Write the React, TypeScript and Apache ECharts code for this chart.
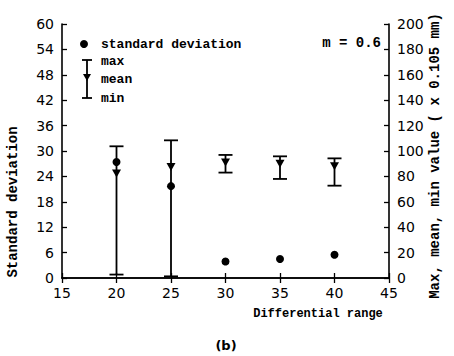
import React, { useEffect, useRef } from "react";
import * as echarts from "echarts";

const ranges = [20, 25, 30, 35, 40];
const stdDev = [27.4, 21.7, 3.9, 4.5, 5.5];
const maxVals = [103.7, 108.4, 96.9, 95.8, 94.2];
const meanVals = [82.2, 87.4, 90.9, 90.0, 88.0];
const minVals = [2.7, 1.3, 83.0, 78.0, 72.7];

const MONO = "'Liberation Mono', 'DejaVu Sans Mono', monospace";
const SANS = "'DejaVu Sans', sans-serif";

export default function App() {
  const ref = useRef<HTMLDivElement>(null);
  useEffect(() => {
    if (!ref.current) return;
    const chart = echarts.init(ref.current, null, { renderer: "svg" });
    const gl = 62, gt = 24, gw = 327, gh = 254;
    const axisCommon = {
      axisLine: { show: true, lineStyle: { color: "#000", width: 1.6 } },
      axisTick: { show: true, inside: true, length: 5, lineStyle: { color: "#000", width: 1.3 } },
      splitLine: { show: false },
    };
    const option: any = {
      animation: false,
      backgroundColor: "#fff",
      grid: { left: gl, top: gt, width: gw, height: gh, containLabel: false },
      xAxis: [
        {
          type: "value", min: 15, max: 45, interval: 5, position: "bottom",
          ...axisCommon,
          axisLabel: { color: "#000", fontFamily: SANS, fontSize: 14, margin: 8 },
        },
        {
          type: "value", min: 15, max: 45, interval: 5, position: "top",
          ...axisCommon,
          axisLabel: { show: false },
        },
      ],
      yAxis: [
        {
          type: "value", min: 0, max: 60, interval: 6, position: "left",
          ...axisCommon,
          axisLabel: { color: "#000", fontFamily: SANS, fontSize: 14, margin: 8 },
        },
        {
          type: "value", min: 0, max: 200, interval: 20, position: "right",
          ...axisCommon,
          axisLabel: { color: "#000", fontFamily: SANS, fontSize: 14, margin: 8 },
        },
      ],
      series: [
        {
          type: "custom",
          xAxisIndex: 0,
          yAxisIndex: 1,
          data: ranges.map((x, i) => [x, minVals[i], maxVals[i]]),
          renderItem: (params: any, api: any) => {
            const x = api.value(0);
            const lo = api.coord([x, api.value(1)]);
            const hi = api.coord([x, api.value(2)]);
            const hw = 7;
            const style = { stroke: "#000", lineWidth: 1.8 };
            return {
              type: "group",
              children: [
                { type: "line", shape: { x1: lo[0], y1: lo[1], x2: hi[0], y2: hi[1] }, style },
                { type: "line", shape: { x1: hi[0] - hw, y1: hi[1], x2: hi[0] + hw, y2: hi[1] }, style },
                { type: "line", shape: { x1: lo[0] - hw, y1: lo[1], x2: lo[0] + hw, y2: lo[1] }, style },
              ],
            };
          },
          z: 2,
        },
        {
          type: "scatter",
          xAxisIndex: 0,
          yAxisIndex: 1,
          data: ranges.map((x, i) => [x, meanVals[i]]),
          symbol: "triangle",
          symbolRotate: 180,
          symbolSize: [9, 8],
          itemStyle: { color: "#000", opacity: 1 },
          z: 3,
        },
        {
          type: "scatter",
          xAxisIndex: 0,
          yAxisIndex: 0,
          data: ranges.map((x, i) => [x, stdDev[i]]),
          symbol: "circle",
          symbolSize: 8,
          itemStyle: { color: "#000", opacity: 1 },
          z: 3,
        },
      ],
      graphic: [
        // legend
        { type: "circle", shape: { cx: 84, cy: 44, r: 4 }, style: { fill: "#000" } },
        { type: "text", x: 101, y: 44, style: { text: "standard deviation", font: `bold 13px ${MONO}`, fill: "#000", textVerticalAlign: "middle" } },
        { type: "line", shape: { x1: 87, y1: 60, x2: 87, y2: 98 }, style: { stroke: "#000", lineWidth: 1.8 } },
        { type: "line", shape: { x1: 82, y1: 60, x2: 92, y2: 60 }, style: { stroke: "#000", lineWidth: 1.8 } },
        { type: "line", shape: { x1: 82, y1: 98, x2: 92, y2: 98 }, style: { stroke: "#000", lineWidth: 1.8 } },
        { type: "polygon", shape: { points: [[83, 74], [91, 74], [87, 81]] }, style: { fill: "#000" } },
        { type: "text", x: 101, y: 61, style: { text: "max", font: `bold 13px ${MONO}`, fill: "#000", textVerticalAlign: "middle" } },
        { type: "text", x: 101, y: 79, style: { text: "mean", font: `bold 13px ${MONO}`, fill: "#000", textVerticalAlign: "middle" } },
        { type: "text", x: 101, y: 98, style: { text: "min", font: `bold 13px ${MONO}`, fill: "#000", textVerticalAlign: "middle" } },
        { type: "text", x: 381, y: 43, style: { text: "m = 0.6", font: `bold 14px ${MONO}`, fill: "#000", textAlign: "right", textVerticalAlign: "middle" } },
        // axis titles
        { type: "text", x: 318, y: 314, style: { text: "Differential range", font: `bold 12px ${MONO}`, fill: "#000", textAlign: "center", textVerticalAlign: "middle" } },
        { type: "text", x: 13, y: 202, rotation: Math.PI / 2, style: { text: "Standard deviation", font: `bold 14px ${MONO}`, fill: "#000", textAlign: "center", textVerticalAlign: "middle" } },
        { type: "text", x: 435, y: 156, rotation: Math.PI / 2, style: { text: "Max, mean, min value ( x 0.105 mm)", font: `bold 14px ${MONO}`, fill: "#000", textAlign: "center", textVerticalAlign: "middle" } },
        { type: "text", x: 226, y: 345, style: { text: "(b)", font: `bold 13px ${SANS}`, fill: "#000", textAlign: "center", textVerticalAlign: "middle" } },
      ],
    };
    chart.setOption(option);
    return () => chart.dispose();
  }, []);
  return (
    <div
      ref={ref}
      style={{ position: "fixed", left: 0, top: 0, width: 454, height: 356, background: "#fff" }}
    />
  );
}
